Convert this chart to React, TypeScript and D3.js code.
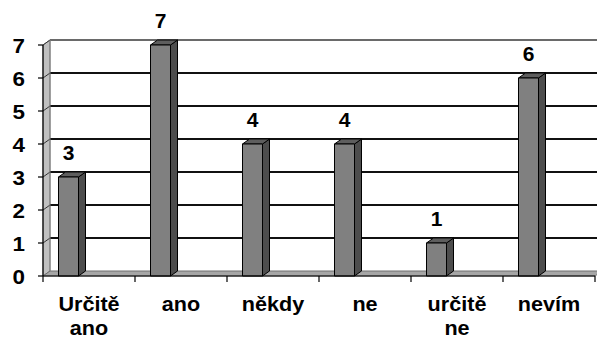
import React from "react";
import * as d3 from "d3";

const categories = ["Určitě ano", "ano", "někdy", "ne", "určitě ne", "nevím"];
const categoryLines = [["Určitě", "ano"], ["ano"], ["někdy"], ["ne"], ["určitě", "ne"], ["nevím"]];
const values = [3, 7, 4, 4, 1, 6];
const yTicks = [0, 1, 2, 3, 4, 5, 6, 7];

const W = 597;
const H = 338;
const FONT = "'Liberation Sans', Arial, Helvetica, sans-serif";

export default function App() {
  const x = d3.scaleBand<string>().domain(categories).range([43, 595]).paddingInner(0).paddingOuter(0);
  const y = d3.scaleLinear().domain([0, 7]).range([276, 45]);
  const dx = 7;
  const dy = -5;
  const barOffset = 15.5;
  const barW = 20;
  const x0 = x.range()[0];
  const x1 = x.range()[1];
  const yBase = y(0);
  const yTop = y(7);

  const pts = (arr: [number, number][]) => arr.map((p) => p.join(",")).join(" ");

  return (
    <svg width={W} height={H} style={{ position: "absolute", left: 0, top: 0, background: "#fff" }}>
      {/* back wall */}
      <rect x={x0 + dx} y={yTop + dy} width={W - x0} height={yBase - yTop} fill="#ffffff" />
      {/* left side wall */}
      <polygon
        points={pts([[x0, yBase], [x0, yTop], [x0 + dx, yTop + dy], [x0 + dx, yBase + dy]])}
        fill="#c0c0c0"
        stroke="#808080"
        strokeWidth={1}
      />
      {/* floor */}
      <polygon
        points={pts([[x0, yBase], [x1, yBase], [x1 + dx, yBase + dy], [x0 + dx, yBase + dy]])}
        fill="#a6a6a6"
        stroke="#6e6e6e"
        strokeWidth={1}
      />
      {/* gridlines on back and side walls */}
      {yTicks.filter((t) => t > 0).map((t) => (
        <g key={t}>
          <line x1={x0 + dx} x2={W} y1={y(t) + dy} y2={y(t) + dy} stroke={t === 7 ? "#6a6a6a" : "#111"} strokeWidth={2} />
          <line x1={x0} x2={x0 + dx} y1={y(t)} y2={y(t) + dy} stroke="#333" strokeWidth={1} />
        </g>
      ))}
      <line x1={x0 + dx} x2={x0 + dx} y1={yTop + dy} y2={yBase + dy} stroke="#808080" strokeWidth={1} />

      {/* bars */}
      {categories.map((c, i) => {
        const bx = (x(c) as number) + barOffset;
        const by = y(values[i]);
        return (
          <g key={c} stroke="#000" strokeWidth={1} strokeLinejoin="round">
            <polygon
              points={pts([[bx + barW, by], [bx + barW + dx, by + dy], [bx + barW + dx, yBase + dy], [bx + barW, yBase]])}
              fill="#4d4d4d"
            />
            <polygon
              points={pts([[bx, by], [bx + dx, by + dy], [bx + barW + dx, by + dy], [bx + barW, by]])}
              fill="#5e5e5e"
            />
            <rect x={bx} y={by} width={barW} height={yBase - by} fill="#808080" />
          </g>
        );
      })}

      {/* value labels */}
      {categories.map((c, i) => (
        <text
          key={c}
          x={(x(c) as number) + barOffset + barW / 2}
          y={y(values[i]) - 17}
          textAnchor="middle"
          fontFamily={FONT}
          fontWeight="bold"
          fontSize={21}
          fill="#000"
        >
          {values[i]}
        </text>
      ))}

      {/* y axis */}
      <line x1={x0} x2={x0} y1={yTop} y2={yBase} stroke="#000" strokeWidth={1.2} />
      {yTicks.map((t) => (
        <g key={t}>
          <line x1={x0 - 5} x2={x0} y1={y(t)} y2={y(t)} stroke="#000" strokeWidth={1.2} />
          <text
            transform={`translate(25, ${y(t) + 8}) scale(1.12, 1)`}
            textAnchor="end"
            fontFamily={FONT}
            fontWeight="bold"
            fontSize={20}
            fill="#000"
          >
            {t}
          </text>
        </g>
      ))}

      {/* x axis */}
      <line x1={x0} x2={x1} y1={yBase} y2={yBase} stroke="#000" strokeWidth={1.2} />
      {[...categories.map((c) => x(c) as number), x1].map((tx, i) => (
        <line key={i} x1={tx} x2={tx} y1={yBase} y2={yBase + 6} stroke="#000" strokeWidth={1.2} />
      ))}
      {categories.map((c, i) => (
        <g key={c} transform={`translate(${(x(c) as number) + x.bandwidth() / 2}, 0)`}>
          {categoryLines[i].map((line, j) => (
            <text
              key={j}
              transform={`translate(0, ${311 + j * 24}) scale(1.08, 1)`}
              textAnchor="middle"
              fontFamily={FONT}
              fontWeight="bold"
              fontSize={20}
              fill="#000"
            >
              {line}
            </text>
          ))}
        </g>
      ))}
    </svg>
  );
}
